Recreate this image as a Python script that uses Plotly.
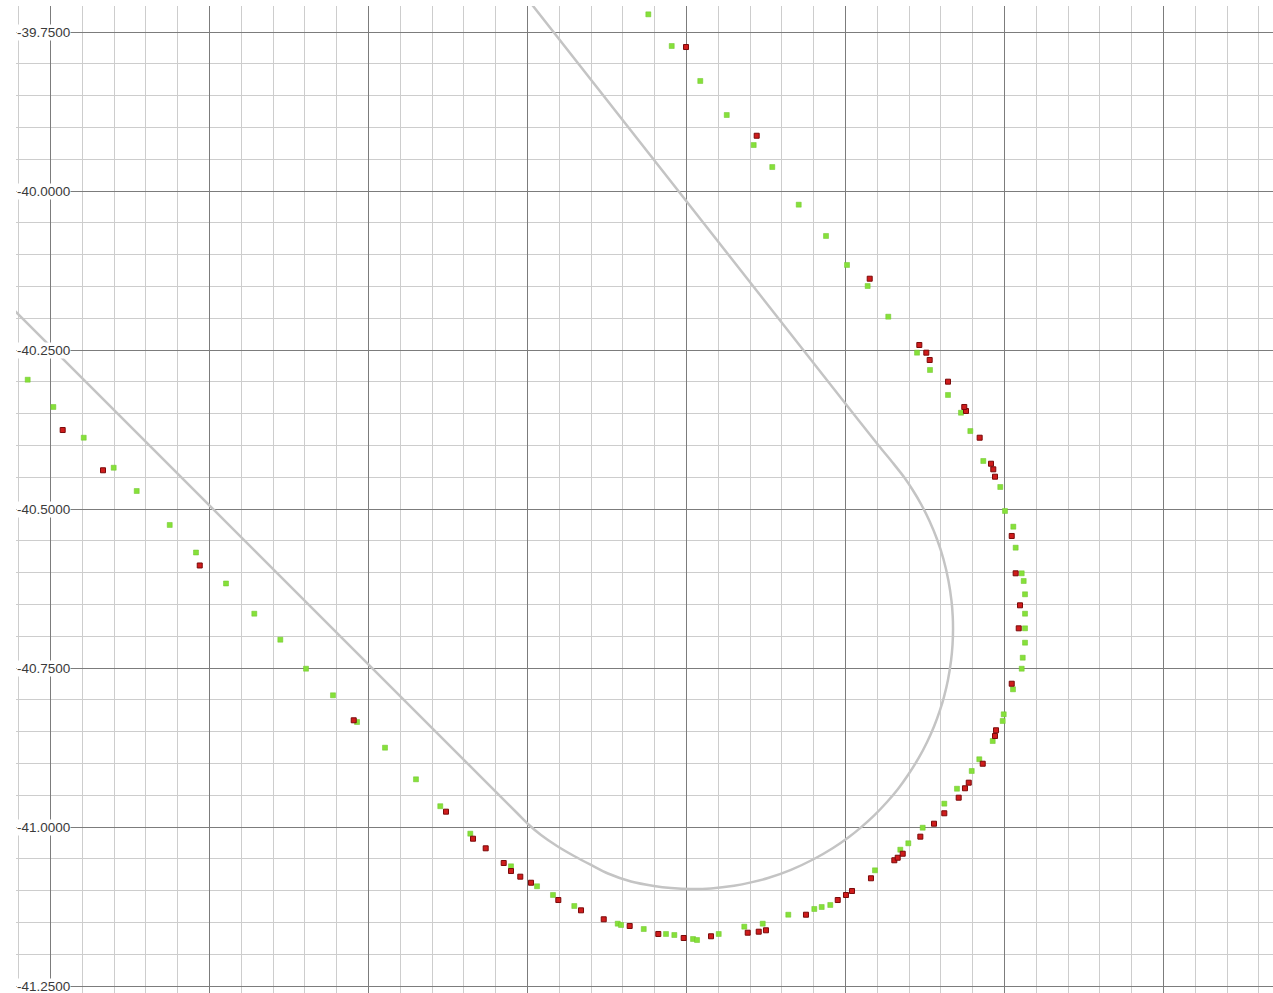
import plotly.graph_objects as go

# Track (holding pattern outline)
track_x = [174.9465, 175.7343, 175.7531, 175.7736, 175.7987, 175.8255, 175.8522, 175.8789,
           175.9151, 175.9512, 175.9780, 176.0094, 176.0409, 176.0770, 176.1038, 176.1305,
           176.1666, 176.2028, 176.2327, 176.2578, 176.2767, 176.2971, 176.3176, 176.3349,
           176.3506, 176.3679, 176.3805, 176.3915, 176.4009, 176.4072, 176.4135, 176.4182,
           176.4206, 176.4214, 176.4209, 176.4190, 176.4143, 176.4063, 176.3961, 176.3844,
           176.3710, 176.3580, 176.3443, 176.3270, 176.3050, 176.2626, 175.7500]
track_y = [-40.1887, -40.9764, -40.9953, -41.0126, -41.0299, -41.0456, -41.0597, -41.0731,
           -41.0857, -41.0927, -41.0959, -41.0975, -41.0965, -41.0923, -41.0871, -41.0802,
           -41.0673, -41.0503, -41.0330, -41.0157, -41.0006, -40.9822, -40.9607, -40.9402,
           -40.9182, -40.8907, -40.8668, -40.8421, -40.8163, -40.7953, -40.7684, -40.7393,
           -40.7138, -40.6887, -40.6682, -40.6446, -40.6132, -40.5786, -40.5472, -40.5189,
           -40.4921, -40.4701, -40.4497, -40.4277, -40.4009, -40.3475, -39.6950]

green_x = [174.9665, 175.0068, 175.0546, 175.1017, 175.1379, 175.1898, 175.2311, 175.2783,
           175.3228, 175.3637, 175.4041, 175.4465, 175.4843, 175.5283, 175.5770, 175.6152,
           175.6624, 175.7264, 175.7673, 175.7924, 175.8259, 175.8942, 175.8994, 175.9351,
           175.9701, 175.9832, 176.0126, 176.0189, 176.0530, 176.0932, 176.1222, 176.1624,
           176.2033, 176.2149, 176.2284, 176.2987, 176.3385, 176.3511, 176.3737, 176.4077,
           176.4276, 176.4508, 176.4627, 176.4838, 176.4995, 176.5011, 176.5157, 176.5294,
           176.5310, 176.5346, 176.5346, 176.5346, 176.5346, 176.5325, 176.5294, 176.5199,
           176.5162, 176.5031, 176.4957, 176.4690, 176.4486, 176.4339, 176.4135, 176.3852,
           176.3648, 176.3196, 176.2872, 176.2547, 176.2217, 176.1788, 176.1372, 176.1080,
           176.0656, 176.0240, 175.9791, 175.9423]
green_y = [-40.2967, -40.3396, -40.3879, -40.4351, -40.4717, -40.5251, -40.5684, -40.6171,
           -40.6646, -40.7055, -40.7511, -40.7929, -40.8349, -40.8753, -40.9250, -40.9673,
           -41.0105, -41.0618, -41.0932, -41.1069, -41.1242, -41.1520, -41.1541, -41.1604,
           -41.1682, -41.1698, -41.1761, -41.1777, -41.1682, -41.1567, -41.1520, -41.1379,
           -41.1289, -41.1258, -41.1226, -41.0681, -41.0357, -41.0256, -41.0011, -40.9633,
           -40.9398, -40.9119, -40.8935, -40.8648, -40.8333, -40.8228, -40.7835, -40.7511,
           -40.7338, -40.7102, -40.6876, -40.6646, -40.6341, -40.6132, -40.6011, -40.5608,
           -40.5278, -40.5031, -40.4654, -40.4245, -40.3774, -40.3486, -40.3207, -40.2814,
           -40.2542, -40.1976, -40.1494, -40.1163, -40.0707, -40.0215, -39.9623, -39.9277,
           -39.8805, -39.8270, -39.7720, -39.7222]

red_x = [175.0215, 175.0849, 175.2370, 175.4791, 175.6242, 175.6667, 175.6866, 175.7149,
         175.7264, 175.7410, 175.7579, 175.8008, 175.8365, 175.8722, 175.9130, 175.9580,
         175.9979, 176.0409, 176.0986, 176.1159, 176.1273, 176.1902, 176.2401, 176.2531,
         176.2626, 176.2924, 176.3291, 176.3344, 176.3423, 176.3700, 176.3915, 176.4077,
         176.4303, 176.4402, 176.4461, 176.4681, 176.4874, 176.4890, 176.5137, 176.5247,
         176.5267, 176.5199, 176.5137, 176.4874, 176.4847, 176.4811, 176.4633, 176.4418,
         176.4391, 176.4135, 176.3847, 176.3794, 176.3684, 176.2904, 176.1127, 176.0016]
red_y = [-40.3758, -40.4391, -40.5888, -40.8322, -40.9759, -41.0184, -41.0335, -41.0566,
         -41.0692, -41.0781, -41.0876, -41.1148, -41.1310, -41.1451, -41.1556, -41.1682,
         -41.1745, -41.1718, -41.1662, -41.1646, -41.1624, -41.1379, -41.1148, -41.1069,
         -41.1006, -41.0806, -41.0523, -41.0483, -41.0420, -41.0152, -40.9948, -40.9784,
         -40.9539, -40.9391, -40.9303, -40.9005, -40.8569, -40.8479, -40.7747, -40.6876,
         -40.6514, -40.6011, -40.5424, -40.4492, -40.4376, -40.4288, -40.3879, -40.3459,
         -40.3396, -40.2998, -40.2657, -40.2542, -40.2421, -40.1379, -39.9131, -39.7736]

y_ticks = [-39.75, -40.00, -40.25, -40.50, -40.75, -41.00, -41.25]
y_tick_text = ["-39.7500", "-40.0000", "-40.2500", "-40.5000", "-40.7500", "-41.0000", "-41.2500"]

fig = go.Figure()
fig.add_trace(go.Scatter(x=track_x, y=track_y, mode="lines",
                         line=dict(color="#c4c4c4", width=2.5, shape="spline", smoothing=0.8),
                         hoverinfo="skip", showlegend=False))
fig.add_trace(go.Scatter(x=green_x, y=green_y, mode="markers",
                         marker=dict(symbol="square", size=5, color="#86e03a",
                                     line=dict(color="#6cc428", width=0.5)),
                         showlegend=False))
fig.add_trace(go.Scatter(x=red_x, y=red_y, mode="markers",
                         marker=dict(symbol="square", size=5, color="#d01c1c",
                                     line=dict(color="#7a0a0a", width=1)),
                         showlegend=False))

# y-axis labels drawn inside the plot, on a white box like the reference
for val, txt in zip(y_ticks, y_tick_text):
    fig.add_annotation(x=0, xref="paper", y=val, yref="y", text=txt, showarrow=False,
                       xanchor="left", yanchor="middle", bgcolor="white", borderpad=0,
                       font=dict(family="Liberation Sans, Arial, sans-serif", size=13.5, color="#3a3a3a"))

fig.update_layout(
    width=1273, height=993,
    margin=dict(l=16, r=0, t=6, b=0),
    paper_bgcolor="white", plot_bgcolor="white",
    xaxis=dict(range=[174.9481, 176.9245], dtick=0.25, tick0=175.0024,
               showgrid=True, gridcolor="#7c7c7c", gridwidth=1.4,
               minor=dict(dtick=0.05, tick0=175.0024, showgrid=True, gridcolor="#cdcdcd", gridwidth=1.4),
               showticklabels=False, zeroline=False, showline=False, ticks=""),
    yaxis=dict(range=[-41.2610, -39.7091], tickvals=y_ticks,
               showgrid=True, gridcolor="#7c7c7c", gridwidth=1.4,
               minor=dict(dtick=0.05, tick0=-39.75, showgrid=True, gridcolor="#cdcdcd", gridwidth=1.4),
               showticklabels=False, ticks="", zeroline=False, showline=False),
)

fig.write_html("out.html")
